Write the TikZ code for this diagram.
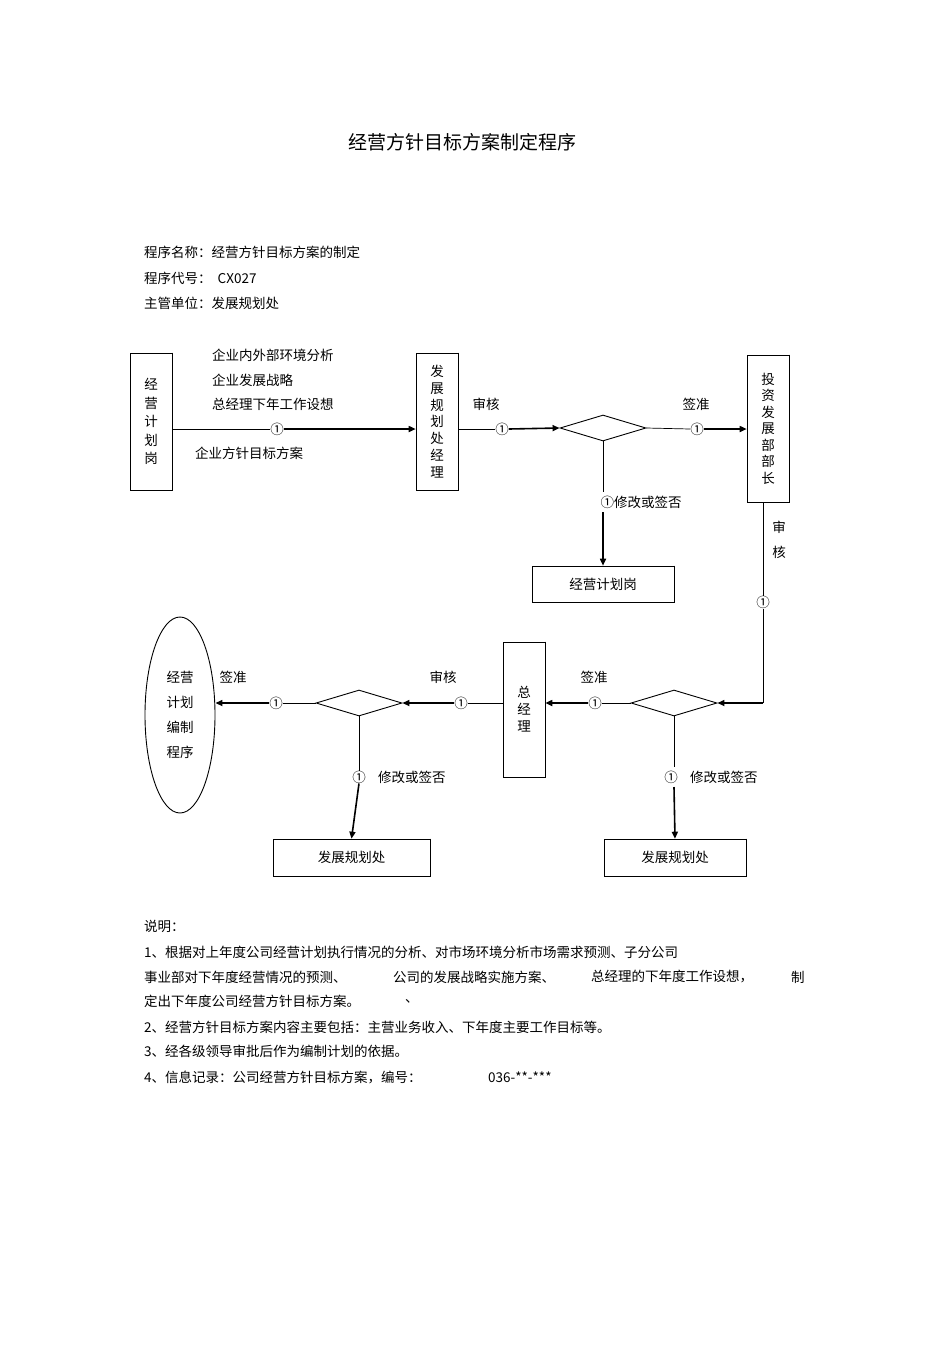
\documentclass[tikz,border=0pt]{standalone}
\usepackage{fontspec}
\setmainfont{Noto Sans CJK SC}
\usetikzlibrary{shapes.geometric,arrows.meta}
\begin{document}
\begin{tikzpicture}[x=1pt,y=-1pt,
  every node/.style={font=\fontsize{13.5}{16}\selectfont,inner sep=0pt},
  box/.style={draw,line width=0.6pt,align=center},
  dia/.style={draw,line width=0.9pt,diamond,aspect=3.4,minimum width=86pt,minimum height=26pt},
  thin/.style={line width=0.7pt},
  arr/.style={line width=1.6pt,-{Triangle[length=7pt,width=6pt]}},
  lbl/.style={anchor=west}]
\useasboundingbox (0,0) rectangle (950,1345);
\fill[white] (0,0) rectangle (950,1345);
\node[font=\fontsize{19}{22}\selectfont] (title) at (462,142) {经营方针目标方案制定程序};
\node[lbl] (h1) at (144,252) {程序名称：经营方针目标方案的制定};
\node[lbl] (h2) at (144,278) {程序代号：\ \ CX027};
\node[lbl] (h3) at (144,303) {主管单位：发展规划处};
% boxes
\node[box,minimum width=42pt,minimum height=137pt,font=\fontsize{13.5}{18.5}\selectfont] (A) at (151,421.5) {经\\营\\计\\划\\岗};
\node[box,minimum width=42pt,minimum height=137pt,font=\fontsize{13.5}{16.8}\selectfont] (B) at (437,421.5) {发\\展\\规\\划\\处\\经\\理};
\node[box,minimum width=42pt,minimum height=147pt,font=\fontsize{13.5}{16.5}\selectfont] (C) at (768,428.5) {投\\资\\发\\展\\部\\部\\长};
\node[box,minimum width=142pt,minimum height=36pt] (D) at (603,584) {经营计划岗};
\node[box,minimum width=42pt,minimum height=135pt,font=\fontsize{13.5}{17}\selectfont] (E) at (524,709.5) {总\\经\\理};
\node[box,minimum width=157pt,minimum height=37pt] (F) at (351.5,857.5) {发展规划处};
\node[box,minimum width=142pt,minimum height=37pt] (G) at (675,857.5) {发展规划处};
\foreach \n in {A,B,C,D,E,F,G}{\draw[line width=1.6pt] (\n.north east)--(\n.south east)--(\n.south west);}
\node[draw,line width=0.9pt,ellipse,minimum width=70pt,minimum height=196pt,align=center,font=\fontsize{13.5}{25}\selectfont] (O) at (180,715) {经营\\计划\\编制\\程序};
\node[dia] (d1) at (603,428) {};
\node[dia] (d2) at (674,703) {};
\node[dia] (d3) at (359,703) {};
% top row
\node[lbl] (t1) at (212,355) {企业内外部环境分析};
\node[lbl] (t2) at (212,380) {企业发展战略};
\node[lbl] (t3) at (212,404) {总经理下年工作设想};
\node[lbl] (t4) at (195,453) {企业方针目标方案};
\node (c1) at (277,429) {①};
\draw[thin] (A.east |- c1) -- (c1.west);
\draw[arr] (c1.east) -- (B.west |- c1);
\node (s1) at (486,404) {审核};
\node (c2) at (502,429) {①};
\draw[thin] (B.east |- c2) -- (c2.west);
\draw[arr] (c2.east) -- (d1.west);
\node (s2) at (696,404) {签准};
\node (c3) at (697,429) {①};
\draw[thin] (d1.east) -- (c3.west);
\draw[arr] (c3.east) -- (C.west |- c3);
\node (m1) at (641,502) {①修改或签否};
\draw[thin] (d1.south) -- (603,492);
\draw[arr] (603,512) -- (D.north);
% right vertical
\node (v1) at (779,527) {审};
\node (v2) at (779,552) {核};
\node (c4) at (763,602) {①};
\draw[thin] (C.south -| c4) -- (c4.north);
\draw[thin] (c4.south) -- (763,703);
\coordinate (k) at (763,703);
\draw[arr] (k) -- (d2.east);
% middle row
\node (s3) at (594,677) {签准};
\node (c5) at (595,703) {①};
\draw[thin] (d2.west) -- (c5.east);
\draw[arr] (c5.west) -- (E.east |- c5);
\node (s4) at (443,677) {审核};
\node (c6) at (461,703) {①};
\draw[thin] (E.west |- c6) -- (c6.east);
\draw[arr] (c6.west) -- (d3.east);
\node (s5) at (233,677) {签准};
\node (c7) at (276,703) {①};
\draw[thin] (d3.west) -- (c7.east);
\draw[arr] (c7.west) -- (O.east |- c7);
% downward
\node (c8) at (359,777) {①};
\node[lbl] (m2) at (378,777) {修改或签否};
\draw[thin] (d3.south) -- (c8.north);
\draw[arr] (c8.south) -- (F.north);
\node (c9) at (671,777) {①};
\node[lbl] (m3) at (690,777) {修改或签否};
\draw[thin] (d2.south) -- (674,767);
\draw[arr] (674,787) -- (G.north);
% notes
\node[lbl] (n0) at (144,926) {说明：};
\node[lbl] (n1) at (144,952) {1、根据对上年度公司经营计划执行情况的分析、对市场环境分析市场需求预测、子分公司};
\node[lbl] (n2a) at (144,977) {事业部对下年度经营情况的预测、};
\node[lbl] (n2b) at (393,977) {公司的发展战略实施方案、};
\node[lbl] (n2c) at (591,977) {总经理的下年度工作设想，};
\node[lbl] (n2d) at (791,977) {制};
\node[lbl] (n3a) at (144,1001) {定出下年度公司经营方针目标方案。};
\node[lbl] (n3b) at (405,1001) {、};
\node[lbl] (n4) at (144,1027) {2、经营方针目标方案内容主要包括：主营业务收入、下年度主要工作目标等。};
\node[lbl] (n5) at (144,1051) {3、经各级领导审批后作为编制计划的依据。};
\node[lbl] (n6a) at (144,1077) {4、信息记录：公司经营方针目标方案，编号：};
\node[lbl] (n6b) at (488,1077) {036-**-***};
\end{tikzpicture}
\end{document}
